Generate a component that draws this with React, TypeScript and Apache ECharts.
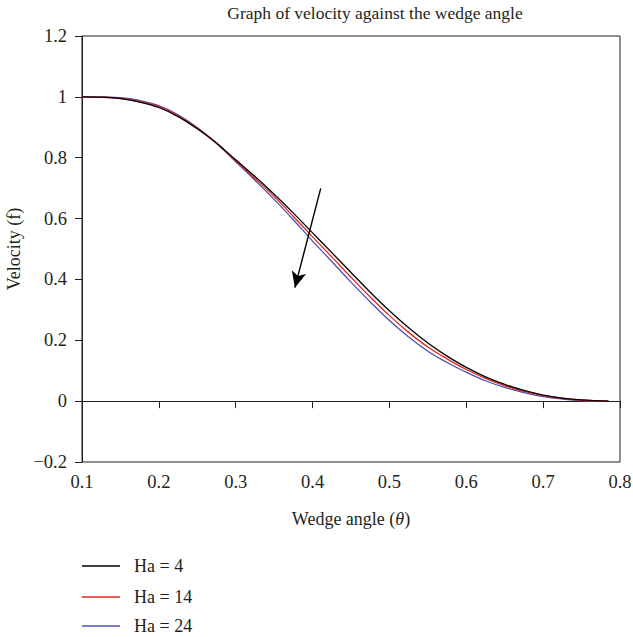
import React, { useEffect, useRef } from "react";
import * as echarts from "echarts";

// Wedge angle samples (rad)
const theta = [
  0.1, 0.125, 0.15, 0.175, 0.2, 0.225, 0.25, 0.275, 0.3, 0.325, 0.35, 0.375, 0.4, 0.425,
  0.45, 0.475, 0.5, 0.525, 0.55, 0.575, 0.6, 0.625, 0.65, 0.675, 0.7, 0.725, 0.75, 0.785,
];

// Velocity profiles for each Hartmann number
const velHa4 = [
  1.0, 0.999, 0.994, 0.983, 0.965, 0.935, 0.895, 0.848, 0.793, 0.738, 0.68, 0.618, 0.553, 0.488,
  0.423, 0.358, 0.297, 0.241, 0.191, 0.148, 0.111, 0.08, 0.055, 0.035, 0.02, 0.01, 0.004, 0.0,
];
const velHa14 = [
  1.0, 0.999, 0.995, 0.985, 0.968, 0.938, 0.897, 0.848, 0.79, 0.732, 0.672, 0.607, 0.54, 0.474,
  0.407, 0.342, 0.281, 0.226, 0.178, 0.139, 0.104, 0.075, 0.051, 0.032, 0.018, 0.009, 0.003, 0.0,
];
const velHa24 = [
  1.0, 0.999, 0.997, 0.988, 0.971, 0.941, 0.899, 0.847, 0.787, 0.726, 0.663, 0.596, 0.526, 0.459,
  0.391, 0.326, 0.265, 0.211, 0.164, 0.127, 0.095, 0.067, 0.045, 0.028, 0.015, 0.007, 0.002, 0.0,
];

const seriesNames = ["Ha = 4", "Ha = 14", "Ha = 24"];
const seriesColors = ["#000000", "#e3261c", "#4c50ad"];

// Arrow showing the trend with increasing Ha: [tail, head] in data units
const arrowTail = [0.4106, 0.699];
const arrowHead = [0.377, 0.373];

const FONT = "Liberation Serif";
const INK = "#231f20";

const fmtY = (v: number) => {
  const r = Math.round(v * 10) / 10;
  if (r === 0) return "0";
  if (r === 1) return "1";
  if (r < 0) return "\u2212" + Math.abs(r).toFixed(1);
  return r.toFixed(1);
};

export default function App() {
  const ref = useRef<HTMLDivElement>(null);

  useEffect(() => {
    if (!ref.current) return;
    const chart = echarts.init(ref.current, null, { renderer: "svg" });
    const values = [velHa4, velHa14, velHa24];
    const legendTops = [557, 588, 617];

    chart.setOption({
      animation: false,
      backgroundColor: "#ffffff",
      textStyle: { fontFamily: FONT },
      grid: {
        left: 82,
        right: 13,
        top: 36,
        bottom: 175,
        containLabel: false,
        outerBoundsMode: "none",
        show: true,
        borderColor: INK,
        borderWidth: 1,
      },
      graphic: [
        {
          type: "text",
          x: 375,
          y: 4,
          style: {
            text: "Graph of velocity against the wedge angle",
            fontFamily: FONT,
            fontSize: 17.5,
            fill: INK,
            textAlign: "center",
          },
        },
      ],
      // one legend block per row, stacked under the plot
      legend: seriesNames.map((name, k) => ({
        orient: "horizontal",
        left: 82,
        top: legendTops[k],
        padding: 0,
        icon: "rect",
        itemWidth: 38,
        itemHeight: 1.4,
        data: [name],
        selectedMode: false,
        textStyle: {
          fontFamily: FONT,
          fontSize: 18,
          color: INK,
          padding: [0, 0, 0, 9],
        },
      })),
      xAxis: {
        type: "value",
        min: 0.1,
        max: 0.8,
        interval: 0.1,
        name: "Wedge angle ({i|θ})",
        nameLocation: "middle",
        nameGap: 48,
        nameTextStyle: {
          fontFamily: FONT,
          fontSize: 18,
          color: INK,
          rich: { i: { fontFamily: FONT, fontSize: 18, fontStyle: "italic", color: INK } },
        },
        axisLine: { show: true, lineStyle: { color: INK, width: 1 } },
        axisTick: { show: true, length: 7, lineStyle: { color: INK } },
        axisLabel: {
          margin: 10,
          fontFamily: FONT,
          fontSize: 18.5,
          color: INK,
          formatter: (v: number) => (Math.round(v * 10) / 10).toFixed(1),
        },
        splitLine: { show: false },
      },
      yAxis: {
        type: "value",
        min: -0.2,
        max: 1.2,
        interval: 0.2,
        name: "Velocity (f)",
        nameLocation: "middle",
        nameGap: 53,
        nameRotate: 90,
        nameTextStyle: {
          fontFamily: FONT,
          fontSize: 18,
          color: INK,
        },
        axisLine: { show: true, lineStyle: { color: INK, width: 1 } },
        axisTick: { show: true, length: 7, lineStyle: { color: INK } },
        axisLabel: {
          margin: 15,
          fontFamily: FONT,
          fontSize: 18.5,
          color: INK,
          formatter: fmtY,
        },
        splitLine: { show: false },
      },
      series: seriesNames.map((name, k) => ({
        name,
        type: "line",
        data: theta.map((t, i) => [t, values[k][i]]),
        smooth: 0.4,
        symbol: "none",
        color: seriesColors[k],
        lineStyle: { color: seriesColors[k], width: 1.3 },
        z: 3 - k,
        markLine:
          k === 0
            ? {
                silent: true,
                symbol: ["none", "arrow"],
                symbolSize: [11, 16],
                label: { show: false },
                lineStyle: { color: "#000000", width: 1.4, type: "solid" },
                data: [[{ coord: arrowTail }, { coord: arrowHead }]],
              }
            : undefined,
      })),
    });

    return () => chart.dispose();
  }, []);

  return (
    <div
      ref={ref}
      style={{ position: "fixed", left: 0, top: 0, width: 633, height: 637 }}
    />
  );
}
